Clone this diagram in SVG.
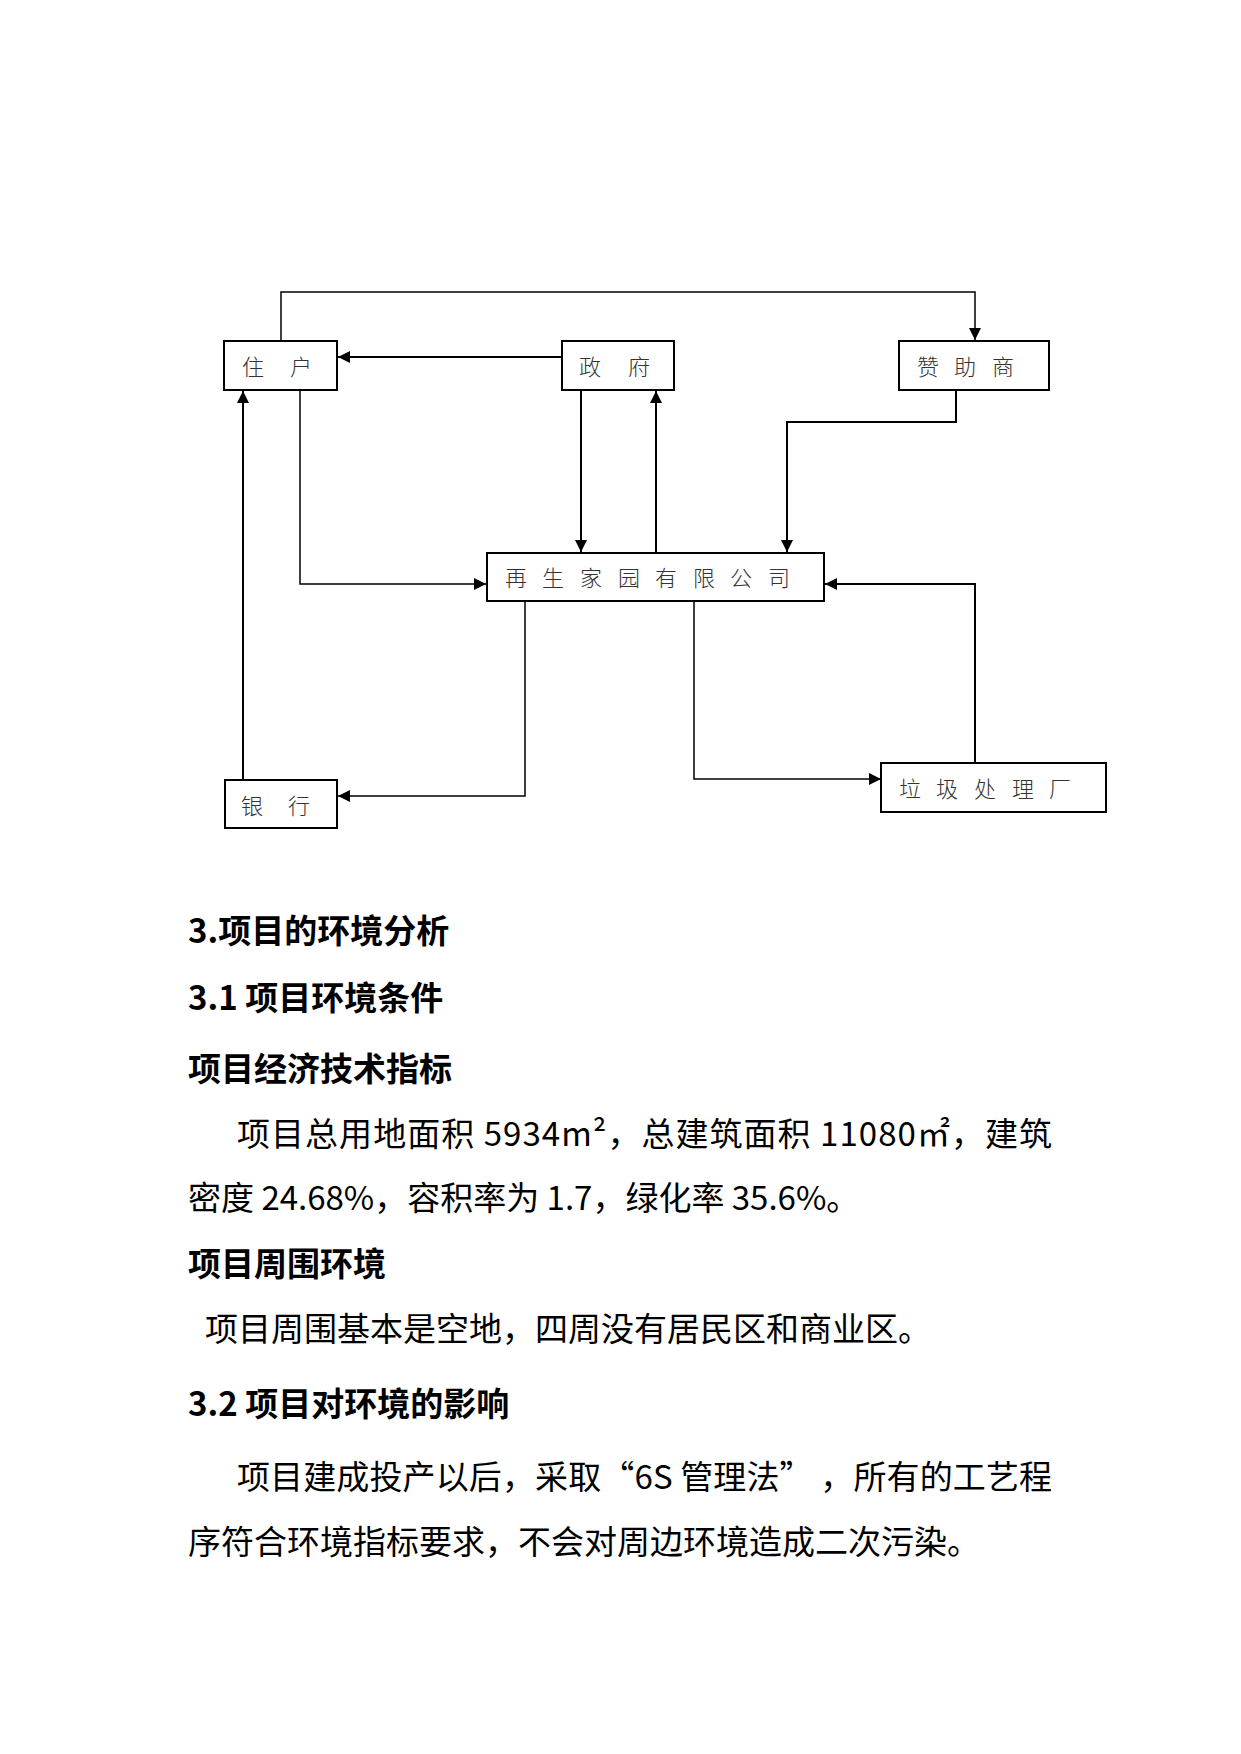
<svg xmlns="http://www.w3.org/2000/svg" width="1241" height="1754" viewBox="0 0 1241 1754">
<style>
.box{fill:#fff;stroke:#000;stroke-width:2}
.lbl{font-family:"Noto Sans CJK SC","Noto Sans CJK JP",sans-serif;font-size:22px;font-weight:300;fill:#333}
.con{fill:none;stroke:#000;stroke-width:2}
.thin{stroke-width:1.5}
.h{font-family:"Noto Sans CJK SC","Noto Sans CJK JP",sans-serif;font-size:33px;font-weight:bold;fill:#000}
.b{font-family:"Noto Sans CJK SC","Noto Sans CJK JP",sans-serif;font-size:33px;fill:#000}
</style>
<defs>
<marker id="arr" markerUnits="userSpaceOnUse" markerWidth="13" markerHeight="12" refX="12" refY="6" orient="auto">
<path d="M0,0 L12,6 L0,12 z" fill="#000"/>
</marker>
</defs>
<rect width="1241" height="1754" fill="#fff"/>
<g id="connectors">
<path class="con thin" d="M281,341 V292 H975 V340" marker-end="url(#arr)"/>
<path class="con" d="M562,357 H338" marker-end="url(#arr)"/>
<path class="con" d="M581,390 V552" marker-end="url(#arr)"/>
<path class="con" d="M656,553 V391" marker-end="url(#arr)"/>
<path class="con" d="M956,390 V422 H787 V552" marker-end="url(#arr)"/>
<path class="con thin" d="M300,390 V584 H486" marker-end="url(#arr)"/>
<path class="con" d="M975,763 V584 H825" marker-end="url(#arr)"/>
<path class="con thin" d="M525,601 V796 H338" marker-end="url(#arr)"/>
<path class="con thin" d="M694,601 V779 H881" marker-end="url(#arr)"/>
<path class="con" d="M243,780 V391" marker-end="url(#arr)"/>
</g>
<g id="node-zhuhu">
<rect class="box" x="224" y="341" width="113" height="49"/>
<text class="lbl" x="242 290" y="375">住户</text>
</g>
<g id="node-zhengfu">
<rect class="box" x="562" y="341" width="112" height="49"/>
<text class="lbl" x="579 628" y="375">政府</text>
</g>
<g id="node-zanzhushang">
<rect class="box" x="899" y="341" width="150" height="49"/>
<text class="lbl" x="917 954 992" y="375">赞助商</text>
</g>
<g id="node-company">
<rect class="box" x="487" y="553" width="337" height="48"/>
<text class="lbl" x="505 542 580 618 655 693 730 768" y="586">再生家园有限公司</text>
</g>
<g id="node-bank">
<rect class="box" x="225" y="780" width="112" height="48"/>
<text class="lbl" x="241 288" y="814">银行</text>
</g>
<g id="node-plant">
<rect class="box" x="881" y="763" width="225" height="49"/>
<text class="lbl" x="899 936 974 1012 1049" y="797">垃圾处理厂</text>
</g>
<g id="text">
<text class="h" x="188" y="943">3.项目的环境分析</text>
<text class="h" x="188" y="1010">3.1 项目环境条件</text>
<text class="h" x="188" y="1081">项目经济技术指标</text>
<text class="b" x="237" y="1146" textLength="815" lengthAdjust="spacing">项目总用地面积 5934m²，总建筑面积 11080㎡，建筑</text>
<text class="b" x="188" y="1210">密度 24.68%，容积率为 1.7，绿化率 35.6%。</text>
<text class="h" x="188" y="1276">项目周围环境</text>
<text class="b" x="205" y="1341">项目周围基本是空地，四周没有居民区和商业区。</text>
<text class="h" x="188" y="1416">3.2 项目对环境的影响</text>
<text class="b" x="237" y="1489" textLength="815" lengthAdjust="spacing">项目建成投产以后，采取“6S 管理法” ，所有的工艺程</text>
<text class="b" x="188" y="1554">序符合环境指标要求，不会对周边环境造成二次污染。</text>
</g>
</svg>
